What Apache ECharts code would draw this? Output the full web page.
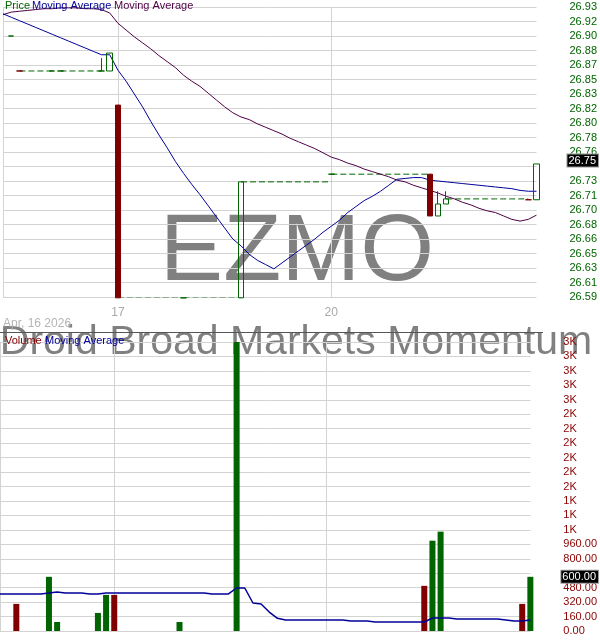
<!DOCTYPE html>
<html>
<head>
    <meta charset="utf-8">
    <title>EZMO</title>
    <script src="https://cdn.jsdelivr.net/npm/echarts@6/dist/echarts.min.js"></script>
    <style>
        html, body {margin: 0; padding: 0; background: #fff;}
    </style>
</head>
<body>
<div id="chartmain" style="width:600px; height:640px;"></div>
</body>
<script>
    // slots along the time axis, one per bar interval
    var firstSlot = -2, lastSlot = 63;
    var dayStarts = [-2, 12, 38];
    var dayNames = ['16', '17', '20'];
    var dateLabel = 'Apr, 16 2026';

    // slots that have a trade, with their OHLC and volume
    var tradeSlots = [-1, 0, 4, 5, 10, 11, 12, 20, 27, 38, 50, 51, 52, 62, 63];
    var opens   = [26.896, 26.855, 26.855, 26.855, 26.855, 26.855, 26.815, 26.589, 26.589, 26.734, 26.734, 26.685, 26.699, 26.704, 26.704];
    var closes  = [26.896, 26.855, 26.855, 26.855, 26.855, 26.876, 26.589, 26.589, 26.725, 26.734, 26.685, 26.699, 26.705, 26.704, 26.746];
    var lows    = [26.896, 26.855, 26.855, 26.855, 26.855, 26.855, 26.589, 26.589, 26.589, 26.734, 26.685, 26.685, 26.699, 26.704, 26.704];
    var highs   = [26.896, 26.855, 26.855, 26.855, 26.870, 26.876, 26.815, 26.589, 26.725, 26.734, 26.734, 26.714, 26.714, 26.704, 26.746];
    var volumes = [0, 300, 600, 100, 200, 400, 400, 100, 3200, 0, 500, 1000, 1100, 300, 600];

    // moving averages, one value per slot (-2 .. 63)
    var priceMA = [26.922, 26.918, 26.914, 26.910, 26.906, 26.902, 26.898, 26.894, 26.890, 26.886,
        26.882, 26.878, 26.874, 26.874, 26.856, 26.843, 26.828, 26.813, 26.796, 26.780,
        26.765, 26.749, 26.735, 26.722, 26.710, 26.697, 26.684, 26.671, 26.658, 26.650,
        26.640, 26.633, 26.628, 26.623, 26.630, 26.637, 26.644, 26.651, 26.658, 26.666,
        26.673, 26.680, 26.689, 26.696, 26.703, 26.708, 26.714, 26.721, 26.728, 26.729,
        26.730, 26.730, 26.727, 26.726, 26.725, 26.724, 26.723, 26.722, 26.721, 26.720,
        26.719, 26.718, 26.717, 26.715, 26.714, 26.714];
    var priceMA2 = [26.921, 26.924, 26.925, 26.926, 26.927, 26.928, 26.928, 26.929, 26.929, 26.929,
        26.928, 26.928, 26.927, 26.923, 26.911, 26.903, 26.895, 26.888, 26.881, 26.873,
        26.866, 26.859, 26.850, 26.843, 26.837, 26.829, 26.821, 26.813, 26.806, 26.801,
        26.798, 26.793, 26.789, 26.785, 26.781, 26.776, 26.772, 26.768, 26.764, 26.759,
        26.754, 26.751, 26.747, 26.744, 26.740, 26.737, 26.734, 26.731, 26.727, 26.725,
        26.721, 26.718, 26.715, 26.712, 26.708, 26.705, 26.701, 26.698, 26.694, 26.691,
        26.689, 26.685, 26.681, 26.679, 26.681, 26.686];
    var volumeMA = [410, 410, 410, 410, 410, 410, 420, 432, 420, 420,
        420, 410, 410, 420, 420, 420, 420, 420, 420, 420,
        420, 420, 420, 420, 420, 420, 410, 410, 410, 476,
        476, 310, 299, 210, 140, 122, 122, 122, 122, 122,
        122, 122, 122, 110, 110, 110, 100, 100, 100, 100,
        100, 100, 100, 144, 144, 144, 133, 133, 133, 133,
        133, 133, 122, 110, 110, 122];

    // axis ticks, bottom to top
    var priceMin = 26.59, priceMax = 26.93;
    var priceTicks = ['26.59', '26.61', '26.63', '26.65', '26.66', '26.68', '26.70', '26.71', '26.73', '26.74', '26.76',
        '26.78', '26.80', '26.82', '26.83', '26.85', '26.87', '26.88', '26.90', '26.92', '26.93'];
    var volumeMax = 3200, volumeStep = 160;
    var volumeTicks = ['0.00', '160.00', '320.00', '480.00', '640.00', '800.00', '960.00', '1K', '1K', '1K', '2K',
        '2K', '2K', '2K', '2K', '2K', '3K', '3K', '3K', '3K', '3K'];

    var GREEN = '#006400', RED = '#800000', BLUE = '#000099', PURPLE = '#4d0047', GRID = '#d3d3d3';
    var FONT = 'Liberation Sans, Arial, sans-serif';

    var slots = [];
    for (var s = firstSlot; s <= lastSlot; s++) slots.push(String(s));

    function emptyRow() {
        return slots.map(function () { return null; });
    }

    // candles and volume bars
    var candleData = slots.map(function () { return '-'; });
    var volData = slots.map(function () { return '-'; });
    for (var k = 0; k < tradeSlots.length; k++) {
        var up = closes[k] > opens[k] || (closes[k] === opens[k] && (k === 0 || closes[k] >= closes[k - 1]));
        var col = up ? GREEN : RED;
        var idx = tradeSlots[k] - firstSlot;
        candleData[idx] = {
            value: [opens[k], closes[k], lows[k], highs[k]],
            itemStyle: {
                color: up ? 'rgba(0,0,0,0)' : RED, color0: up ? 'rgba(0,0,0,0)' : RED,
                borderColor: col, borderColor0: col, borderWidth: 1
            }
        };
        volData[idx] = {value: volumes[k], itemStyle: {color: col}};
    }

    // dashed carry lines where no trade happened
    var carrySeries = [];
    for (var k = 0; k + 1 < tradeSlots.length; k++) {
        var a = tradeSlots[k], b = tradeSlots[k + 1];
        if (b - a > 1) {
            var row = emptyRow();
            for (var s = a; s <= b; s++) row[s - firstSlot] = closes[k];
            carrySeries.push({
                type: 'line', xAxisIndex: 0, yAxisIndex: 0, data: row, symbol: 'none', z: 2,
                lineStyle: {color: GREEN, width: 1, type: [6, 3]}, silent: true
            });
        }
    }

    var lastClose = closes[closes.length - 1];
    var lastVol = volumes[volumes.length - 1];
    var hidePriceTick = Math.round((lastClose - priceMin) / ((priceMax - priceMin) / 20));
    var hideVolTick = Math.round(lastVol / volumeStep);

    function lastMark(v) {
        return {
            silent: true, symbol: ['none', 'none'],
            lineStyle: {width: 0, color: 'rgba(0,0,0,0)'},
            label: {
                position: 'end', distance: 31, formatter: v.toFixed(2),
                color: '#fff', backgroundColor: '#000', borderColor: '#999', borderWidth: 1,
                padding: [1, 2, 0, 1], fontSize: 11, fontFamily: FONT
            },
            data: [{yAxis: v}]
        };
    }

    var myChart = echarts.init(document.getElementById('chartmain'));
    var option = {
        animation: false,
        textStyle: {fontFamily: FONT},
        grid: [
            {left: 0, top: 7, width: 539, height: 290},
            {left: 0, top: 342, width: 539, height: 289}
        ],
        xAxis: [0, 1].map(function (g) {
            return {
                type: 'category', gridIndex: g, data: slots, boundaryGap: false,
                axisLine: {show: false}, axisTick: {show: false},
                axisLabel: {
                    show: g === 0, interval: 0, margin: 10, color: '#a8a8a8', fontSize: 12,
                    formatter: function (v) {
                        var d = dayStarts.indexOf(+v);
                        return d > 0 ? dayNames[d] : '';
                    }
                },
                splitLine: {
                    show: true, lineStyle: {color: GRID},
                    interval: function (i) { return dayStarts.indexOf(i + firstSlot) >= 0; }
                }
            };
        }),
        yAxis: [
            {type: 'value', gridIndex: 0, position: 'right', min: priceMin, max: priceMax, show: false},
            {
                type: 'value', gridIndex: 0, position: 'right', min: 0, max: 20, interval: 1,
                axisLine: {show: false}, axisTick: {show: false},
                splitLine: {lineStyle: {color: GRID}},
                axisLabel: {
                    margin: 33, color: GREEN, fontSize: 11,
                    formatter: function (v) { return v === hidePriceTick ? '' : priceTicks[v]; }
                }
            },
            {
                type: 'value', gridIndex: 1, position: 'right', min: 0, max: volumeMax, interval: volumeStep,
                axisLine: {show: false}, axisTick: {show: false},
                splitLine: {lineStyle: {color: GRID}},
                axisLabel: {
                    margin: 33, color: '#8b0000', fontSize: 11,
                    formatter: function (v) {
                        var i = Math.round(v / volumeStep);
                        return i === hideVolTick ? '' : volumeTicks[i];
                    }
                }
            }
        ],
        graphic: [
            {type: 'text', z: -1, style: {text: 'EZMO', x: 297, y: 254, align: 'center', verticalAlign: 'middle',
                textAlign: 'center', textVerticalAlign: 'middle', fill: '#808080', font: '95px ' + FONT}},
            {type: 'text', z: -1, style: {text: 'Droid Broad Markets Momentum', x: 296, y: 343, align: 'center', verticalAlign: 'middle',
                textAlign: 'center', textVerticalAlign: 'middle', fill: '#808080', font: '41px ' + FONT}},
            {type: 'text', z: 5, style: {text: 'Price', x: 5, y: 6, verticalAlign: 'middle', textVerticalAlign: 'middle', fill: GREEN, font: '11px ' + FONT}},
            {type: 'text', z: 5, style: {text: 'Moving Average', x: 32, y: 6, verticalAlign: 'middle', textVerticalAlign: 'middle', fill: BLUE, font: '11px ' + FONT}},
            {type: 'text', z: 5, style: {text: 'Moving Average', x: 114, y: 6, verticalAlign: 'middle', textVerticalAlign: 'middle', fill: PURPLE, font: '11px ' + FONT}},
            {type: 'text', z: 5, style: {text: dateLabel, x: 3, y: 324, verticalAlign: 'middle', textVerticalAlign: 'middle', fill: '#b4b4b4', font: '12px ' + FONT}},
            {type: 'line', z: 5, shape: {x1: 0, y1: 332.5, x2: 543, y2: 332.5}, style: {stroke: '#555', lineWidth: 1}},
            {type: 'text', z: 5, style: {text: 'Volume', x: 5, y: 341, verticalAlign: 'middle', textVerticalAlign: 'middle', fill: RED, font: '11px ' + FONT}},
            {type: 'text', z: 5, style: {text: 'Moving Average', x: 45, y: 341, verticalAlign: 'middle', textVerticalAlign: 'middle', fill: BLUE, font: '11px ' + FONT}}
        ],
        series: carrySeries.concat([
            {
                name: 'Moving Average', type: 'line', xAxisIndex: 0, yAxisIndex: 0, data: priceMA2,
                symbol: 'none', z: 3, lineStyle: {color: PURPLE, width: 1}
            },
            {
                name: 'Moving Average', type: 'line', xAxisIndex: 0, yAxisIndex: 0, data: priceMA,
                symbol: 'none', z: 3, lineStyle: {color: BLUE, width: 1}
            },
            {
                name: 'Price', type: 'candlestick', xAxisIndex: 0, yAxisIndex: 0, data: candleData,
                barWidth: 6, clip: false, z: 4, markLine: lastMark(lastClose)
            },
            {
                name: 'Volume', type: 'bar', xAxisIndex: 1, yAxisIndex: 2, data: volData,
                barWidth: 6, z: 3, markLine: lastMark(lastVol)
            },
            {
                name: 'Volume Moving Average', type: 'line', xAxisIndex: 1, yAxisIndex: 2, data: volumeMA,
                symbol: 'none', z: 4, lineStyle: {color: BLUE, width: 1.5}
            }
        ])
    };
    myChart.setOption(option);
</script>
</html>
